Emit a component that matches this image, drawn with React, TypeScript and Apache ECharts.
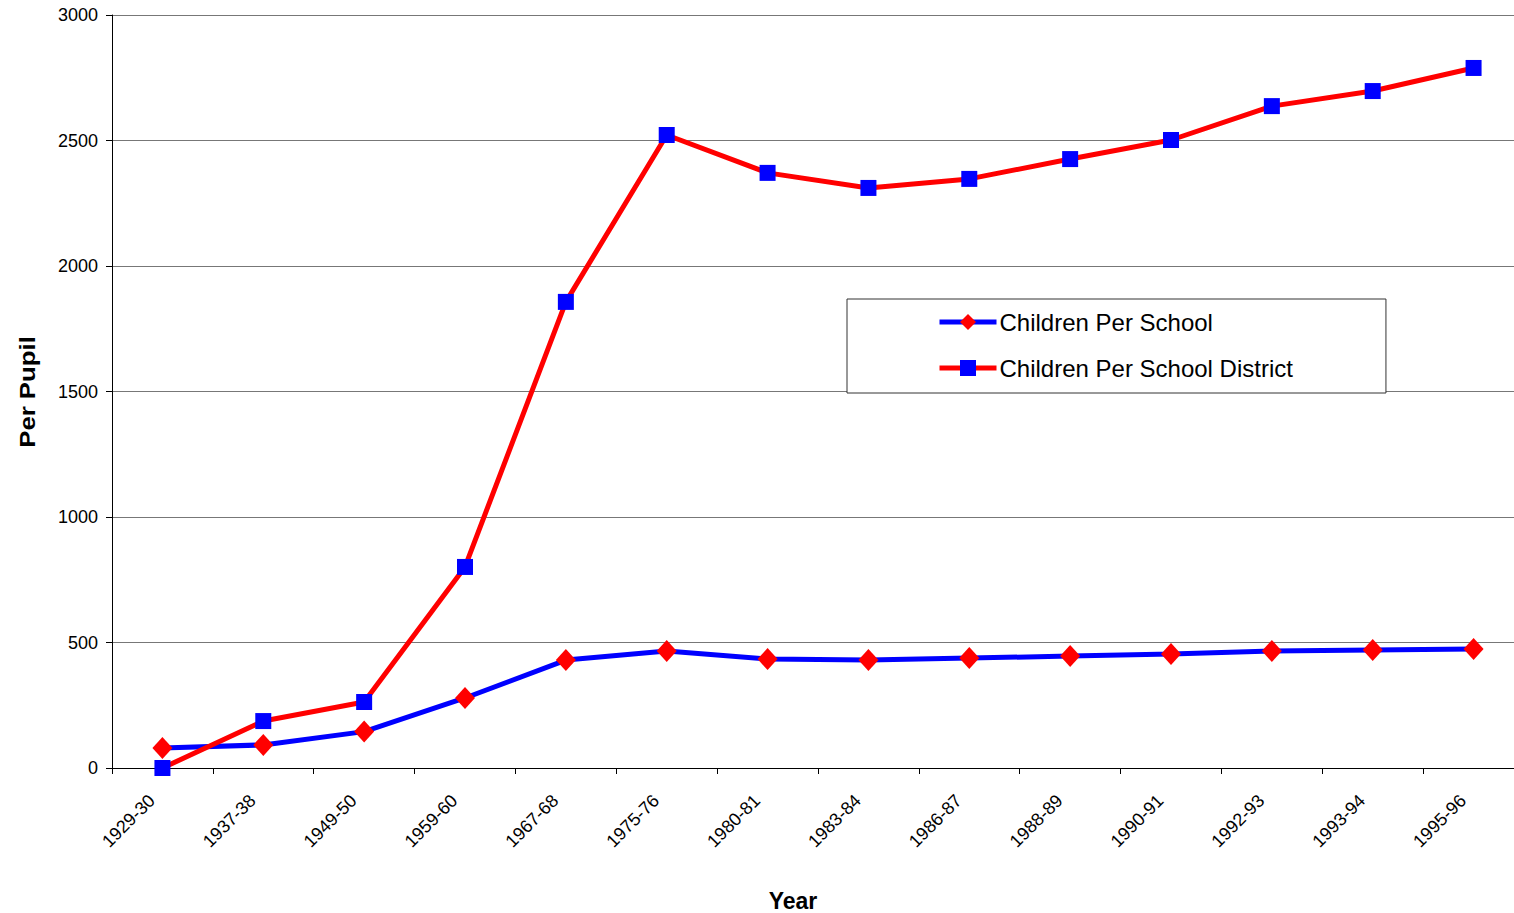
import React, { useEffect, useRef } from "react";
import * as echarts from "echarts";

// School-year categories along the x axis
const years = [
  "1929-30", "1937-38", "1949-50", "1959-60", "1967-68", "1975-76", "1980-81",
  "1983-84", "1986-87", "1988-89", "1990-91", "1992-93", "1993-94", "1995-96",
];

// Average number of children per school
const childrenPerSchool = [80, 92, 145, 279, 430, 466, 434, 430, 438, 446, 454, 466, 470, 474];

// Average number of children per school district
const childrenPerDistrict = [0, 187, 263, 801, 1857, 2522, 2371, 2311, 2347, 2426, 2502, 2637, 2697, 2789];

const yTicks = { min: 0, max: 3000, interval: 500 };

const FONT = "Arial";

export default function App() {
  const ref = useRef<HTMLDivElement>(null);

  useEffect(() => {
    if (!ref.current) return;
    const chart = echarts.init(ref.current, undefined, { renderer: "svg" });
    chart.setOption({
      animation: false,
      backgroundColor: "#ffffff",
      textStyle: { fontFamily: FONT },
      grid: { left: 112, width: 1412, top: 15, bottom: 145, outerBoundsMode: "none" },
      legend: {
        left: 847,
        top: 299,
        orient: "vertical",
        padding: [11, 93, 13, 90],
        itemGap: 22,
        itemWidth: 57,
        itemHeight: 20,
        backgroundColor: "#ffffff",
        borderColor: "#333333",
        borderWidth: 1,
        textStyle: { fontFamily: FONT, fontSize: 24, color: "#000", padding: [0, 0, 0, -2] },
        data: [
          { name: "Children Per School", lineStyle: { width: 5 } },
          { name: "Children Per School District", lineStyle: { width: 5 } },
        ],
      },
      xAxis: {
        type: "category",
        data: years,
        boundaryGap: true,
        axisLine: { lineStyle: { color: "#000", width: 1 } },
        axisTick: { show: true, length: 6, lineStyle: { color: "#000" } },
        axisLabel: {
          rotate: 45,
          interval: 0,
          fontFamily: FONT,
          fontSize: 18,
          color: "#000",
          margin: 19,
          padding: [0, 15, 17, 0],
        },
        splitLine: { show: false },
      },
      yAxis: {
        type: "value",
        min: yTicks.min,
        max: yTicks.max,
        interval: yTicks.interval,
        axisLine: { show: true, lineStyle: { color: "#000", width: 1 } },
        axisTick: { show: true, length: 6, lineStyle: { color: "#000" } },
        axisLabel: {
          fontFamily: FONT,
          fontSize: 18,
          color: "#000",
          margin: 14,
          formatter: (v: number) => String(v),
        },
        splitLine: { show: true, lineStyle: { color: "#777777", width: 1 } },
      },
      graphic: [
        {
          type: "text",
          x: 27,
          y: 392,
          rotation: Math.PI / 2,
          scaleX: 1.12,
          style: {
            text: "Per Pupil",
            fontFamily: FONT,
            fontSize: 23,
            fontWeight: "bold",
            fill: "#000",
            align: "center",
            verticalAlign: "middle",
          },
        },
        {
          type: "text",
          x: 793,
          y: 901,
          style: {
            text: "Year",
            fontFamily: FONT,
            fontSize: 23,
            fontWeight: "bold",
            fill: "#000",
            align: "center",
            verticalAlign: "middle",
          },
        },
      ],
      series: [
        {
          name: "Children Per School",
          type: "line",
          data: childrenPerSchool,
          symbol: "diamond",
          symbolSize: [20, 22],
          showAllSymbol: true,
          lineStyle: { color: "#0000ff", width: 5 },
          itemStyle: { color: "#ff0000" },
          z: 2,
        },
        {
          name: "Children Per School District",
          type: "line",
          data: childrenPerDistrict,
          symbol: "rect",
          symbolSize: 16,
          showAllSymbol: true,
          lineStyle: { color: "#ff0000", width: 5 },
          itemStyle: { color: "#0000ff" },
          z: 3,
        },
      ],
    });
    return () => chart.dispose();
  }, []);

  return (
    <div
      ref={ref}
      style={{ position: "fixed", left: 0, top: 0, width: 1514, height: 913 }}
    />
  );
}
